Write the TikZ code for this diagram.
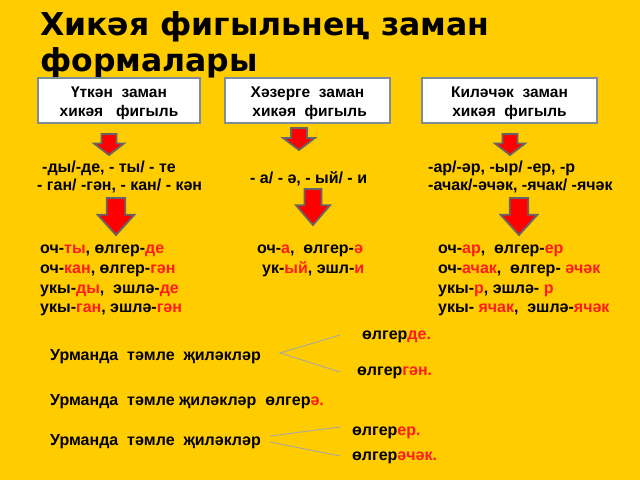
\documentclass[tikz,border=0pt]{standalone}
\usepackage{fontspec}
\setmainfont{Liberation Sans}
\newfontfamily\titleFamily{DejaVu Sans}
\usepackage{tikz}
\definecolor{slideYellow}{HTML}{FFCC00}
\definecolor{sufRed}{HTML}{FF1C1C}
\definecolor{boxBorder}{HTML}{7F8C99}
\definecolor{arrowGray}{HTML}{656565}
\definecolor{forkGray}{HTML}{A8A8A0}
\newcommand{\rd}[1]{\textcolor{sufRed}{#1}}
\newcommand{\bodyFont}{\bfseries\fontsize{16}{19}\selectfont}
\newcommand{\blockArrow}[4]{% center x, top y, width, height
  \draw[arrowStyle] ({#1-#3/4},#2) -- ({#1+#3/4},#2) -- ({#1+#3/4},{#2+0.45*#4})
    -- ({#1+#3/2},{#2+0.45*#4}) -- (#1,{#2+#4}) -- ({#1-#3/2},{#2+0.45*#4})
    -- ({#1-#3/4},{#2+0.45*#4}) -- cycle;}

\begin{document}
\begin{tikzpicture}[x=1pt, y=-1pt,
    txt/.style={anchor=base west, inner sep=0pt, font=\bodyFont},
    titleTxt/.style={anchor=base west, inner sep=0pt, font=\titleFamily\bfseries\fontsize{31.5}{34}\selectfont},
    tenseBox/.style={draw=boxBorder, line width=1.4pt, fill=white, minimum width=#1,
      minimum height=45, inner sep=0pt},
    boxTxt/.style={align=center, inner sep=0pt, font=\bfseries\fontsize{15.5}{19}\selectfont},
    arrowStyle/.style={fill=red, draw=arrowGray, line width=1.8pt, line join=miter},
    fork/.style={draw=forkGray, line width=0.9pt}]
\fill[slideYellow] (0,0) rectangle (640,480);
\useasboundingbox (0,0) rectangle (640,480);

% title
\node (titleA) [titleTxt] at (40,35) {Хикәя фигыльнең заман};
\node (titleB) [titleTxt] at (40,71) {формалары};

% tense boxes
\node (pastBox) [tenseBox=162] at (119,100.5) {};
\node (presBox) [tenseBox=165] at (307.5,100.5) {};
\node (futBox) [tenseBox=175] at (509.5,100.5) {};
\node (pastName) [boxTxt] at ([yshift=-2.5pt]pastBox.center) {Үткән\ \ заман\\хикәя\ \ \ фигыль};
\node (presName) [boxTxt] at ([yshift=-2.5pt]presBox.center) {Хәзерге\ \ заман\\\ хикәя\ \ фигыль};
\node (futName) [boxTxt] at ([yshift=-2.5pt]futBox.center) {Киләчәк\ \ заман\\хикәя\ \ фигыль};

% small arrows
\blockArrow{109}{134}{30}{21}
\blockArrow{299}{128}{32}{22}
\blockArrow{510}{134}{30}{21}

% suffixes
\node (pastSufA) [txt] at (42,172) {-ды/-де, - ты/ - те};
\node (pastSufB) [txt] at (37,190) {- ган/ -гән, - кан/ - кән};
\node (presSuf) [txt] at (250,183) {- а/ - ә, - ый/ - и};
\node (futSufA) [txt] at (428,172) {-ар/-әр, -ыр/ -ер, -р};
\node (futSufB) [txt] at (428,190) {-ачак/-әчәк, -ячак/ -ячәк};

% big arrows
\blockArrow{116}{198}{37}{37}
\blockArrow{313}{189}{34}{36}
\blockArrow{519}{198}{37}{37}

% examples
\node (pastExA) [txt] at (40,253) {оч-\rd{ты}, өлгер-\rd{де}};
\node (pastExB) [txt] at (40,273) {оч-\rd{кан}, өлгер-\rd{гән}};
\node (pastExC) [txt] at (40,293) {укы-\rd{ды},\ \ эшлә-\rd{де}};
\node (pastExD) [txt] at (40,312) {укы-\rd{ган}, эшлә-\rd{гән}};
\node (presExA) [txt] at (257,253) {оч-\rd{а},\ \ өлгер-\rd{ә}};
\node (presExB) [txt] at (262,273) {ук-\rd{ый}, эшл-\rd{и}};
\node (futExA) [txt] at (438,253) {оч-\rd{ар},\ \ өлгер-\rd{ер}};
\node (futExB) [txt] at (438,273) {оч-\rd{ачак},\ \ өлгер- \rd{әчәк}};
\node (futExC) [txt] at (438,293) {укы-\rd{р}, эшлә- \rd{р}};
\node (futExD) [txt] at (438,312) {укы- \rd{ячак},\ \ эшлә-\rd{ячәк}};

% sentences
\node (sentPast) [txt] at (50,360) {Урманда\ \ тәмле\ \ җиләкләр};
\node (pastDe) [txt] at (362,339) {өлгер\rd{де.}};
\node (pastGan) [txt] at (357,375) {өлгер\rd{гән.}};
\node (sentPres) [txt] at (50,405) {Урманда\ \ тәмле җиләкләр\ \ өлгер\rd{ә.}};
\node (sentFut) [txt] at (50,445) {Урманда\ \ тәмле\ \ җиләкләр};
\node (futEr) [txt] at (352,435) {өлгер\rd{ер.}};
\node (futAchak) [txt] at (352,460) {өлгер\rd{әчәк.}};

\coordinate (forkPast) at (280,353);
\coordinate (forkPastUp) at (340,335);
\coordinate (forkPastDown) at (340,372);
\coordinate (forkFutUp) at (340,427);
\coordinate (forkFutDown) at (340,456);
\draw[fork] (forkPastUp) -- (forkPast) -- (forkPastDown);
\draw[fork] (270,436) coordinate (forkFutA) -- (forkFutUp);
\draw[fork] (270,442) coordinate (forkFutB) -- (forkFutDown);
\end{tikzpicture}
\end{document}
